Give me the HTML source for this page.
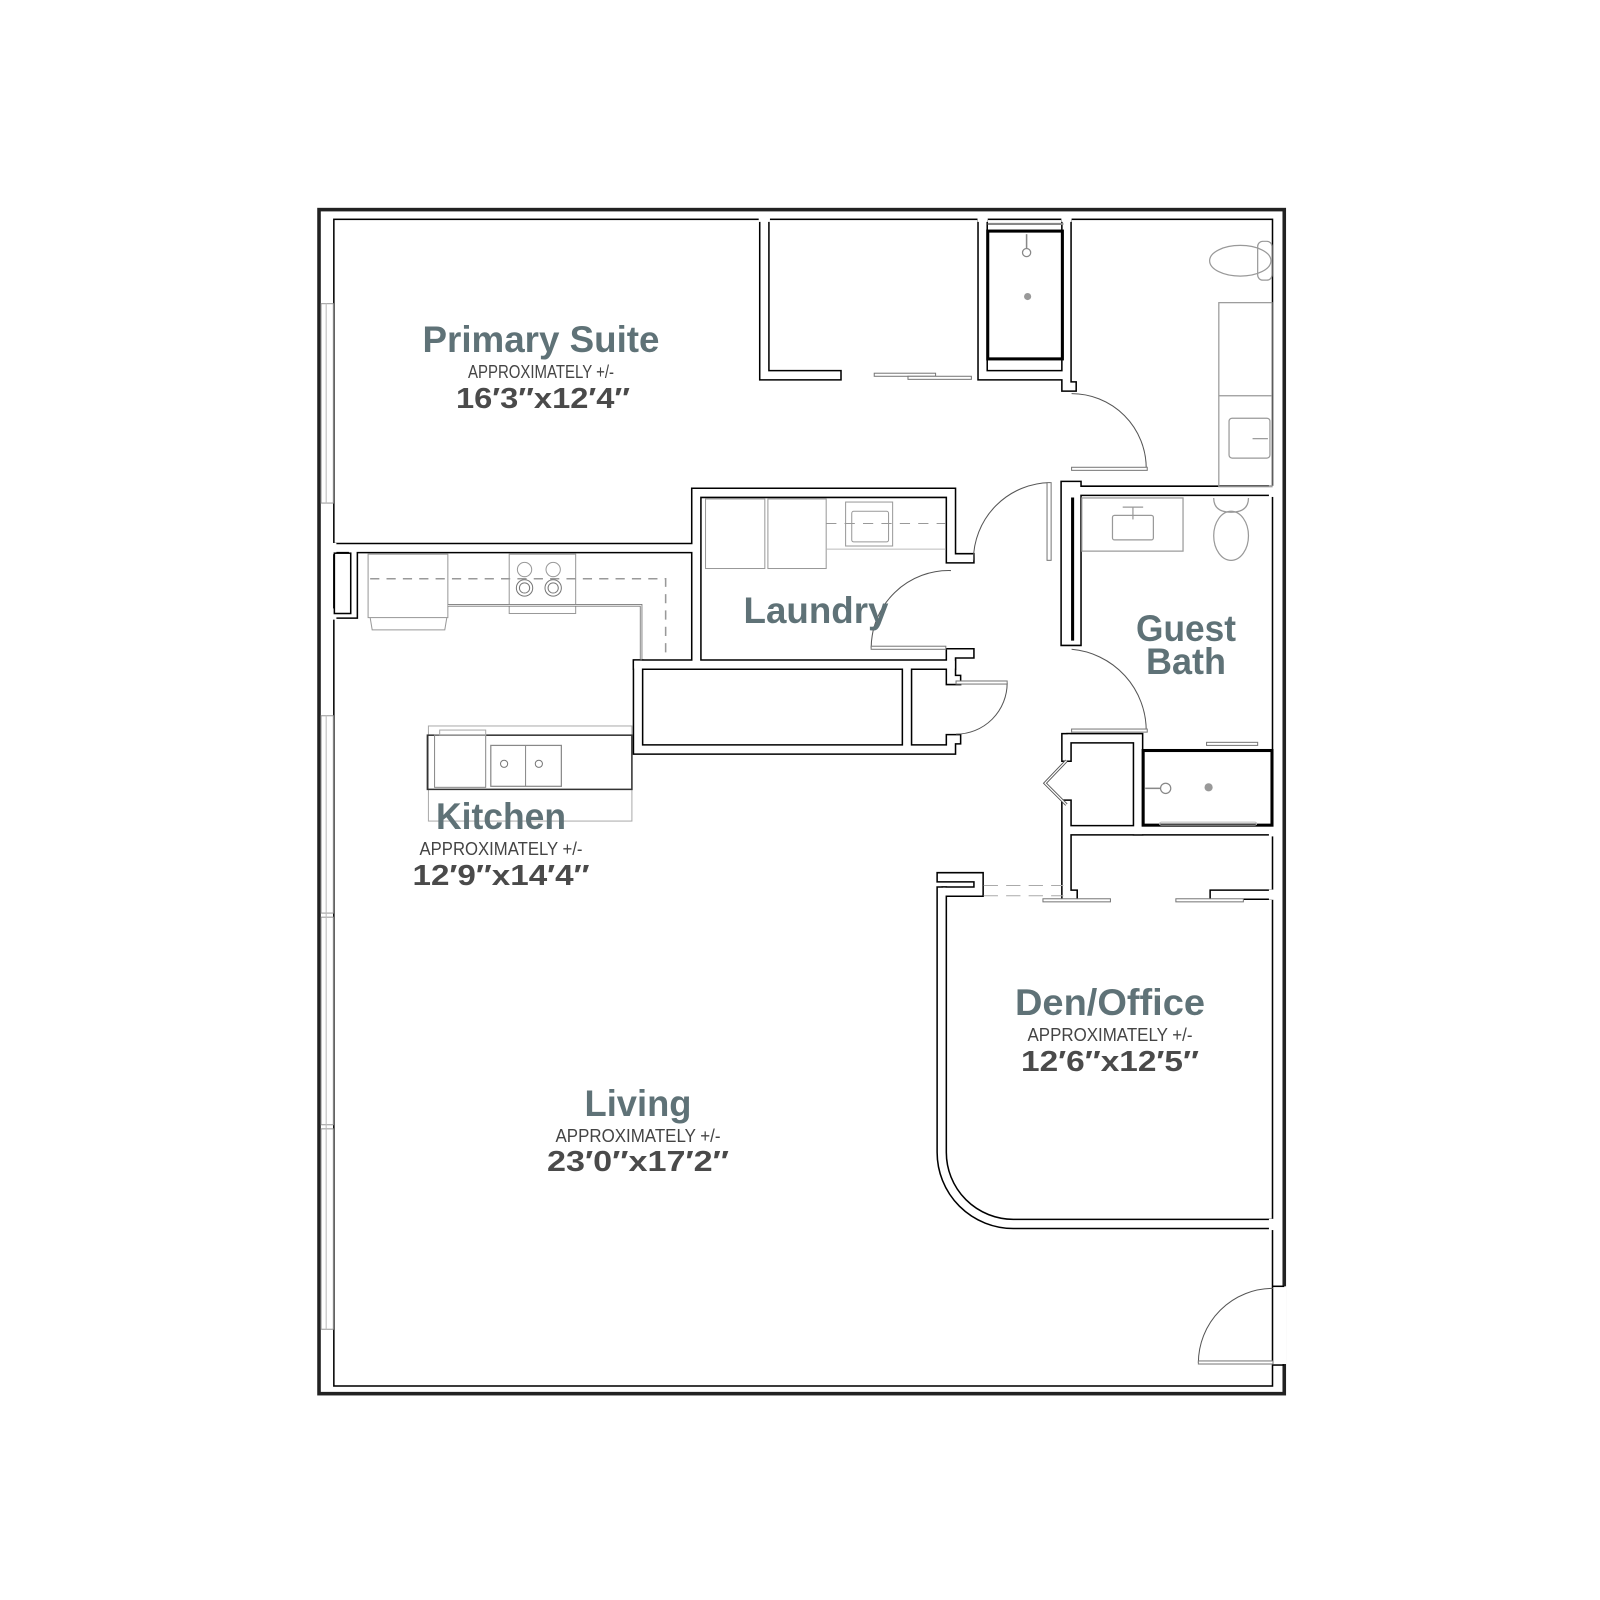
<!DOCTYPE html>
<html><head><meta charset="utf-8"><style>
html,body{margin:0;padding:0;background:#fff;}
svg{display:block;}
.t{font-family:"Liberation Sans",sans-serif;font-weight:bold;fill:#5f7277;text-anchor:middle;}
.a{font-family:"Liberation Sans",sans-serif;fill:#444;text-anchor:middle;}
.d{font-family:"Liberation Sans",sans-serif;font-weight:bold;fill:#4a4a4a;text-anchor:middle;}
</style></head><body>
<svg width="1600" height="1600" viewBox="0 0 1600 1600" xmlns="http://www.w3.org/2000/svg">
<rect width="1600" height="1600" fill="#fff"/>
<g transform="scale(1.0225)">
<rect x="312" y="205" width="944" height="1158" fill="none" stroke="#222" stroke-width="3.5"/>
<rect x="326.5" y="214.5" width="918" height="1141" fill="none" stroke="#000" stroke-width="1.5"/>
<g fill="#fff" stroke="#999" stroke-width="1">
<rect x="314" y="297" width="12" height="195"/>
<rect x="314" y="700" width="12" height="193"/>
<rect x="314" y="897" width="12" height="203"/>
<rect x="314" y="1104" width="12" height="196"/>
</g>
<g stroke="#bbb" stroke-width="1"><line x1="319" y1="297" x2="319" y2="492"/><line x1="319" y1="700" x2="319" y2="1300"/></g>
<rect x="1246" y="1258" width="12" height="76" fill="#fff"/>
<line x1="1245" y1="1258" x2="1256" y2="1258" stroke="#000" stroke-width="1.5"/>
<line x1="1245" y1="1335" x2="1256" y2="1335" stroke="#000" stroke-width="1.5"/>

<g fill="none" stroke-linejoin="miter" stroke-linecap="square">
<g stroke="#000" stroke-width="10.5">
<path d="M747.5,220 V367 H818"/>
<path d="M961,220 V367 H1041"/>
<path d="M1043,220 V378 H1048"/>
<path d="M1048,480 H1240"/>
<path d="M331,536 H676"/>
<path d="M681,650 V482 H930 V546 H948"/>
<path d="M948,639 H930 V650"/>
<path d="M624,650 H930 V665 H935"/>
<path d="M935,723 H930 V733 H624 V650"/>
<path d="M887,656 V728"/>
<path d="M345,541 V600 H331"/>
<path d="M1048,722 H1113 V812"/>
<path d="M1043,722 V740"/>
<path d="M1043,787 V875 H1049"/>
<path d="M1048,812 H1240"/>
<path d="M1188,875 H1240"/>
<path d="M921,872 V1127 A70,70 0 0 0 991,1197 H1240"/>
<path d="M921,858 H957 V872 H926"/>
</g>
<g stroke="#000" stroke-width="21" stroke-linecap="butt"><path d="M1047.5,470 V632"/></g>
<g stroke="#fff" stroke-width="7.5">
<path d="M747.5,220 V367 H818"/>
<path d="M961,220 V367 H1041"/>
<path d="M1043,220 V378 H1048"/>
<path d="M1048,480 H1240"/>
<path d="M331,536 H676"/>
<path d="M681,650 V482 H930 V546 H948"/>
<path d="M948,639 H930 V650"/>
<path d="M624,650 H930 V665 H935"/>
<path d="M935,723 H930 V733 H624 V650"/>
<path d="M887,656 V728"/>
<path d="M345,541 V600 H331"/>
<path d="M1048,722 H1113 V812"/>
<path d="M1043,722 V740"/>
<path d="M1043,787 V875 H1049"/>
<path d="M1048,812 H1240"/>
<path d="M1188,875 H1240"/>
<path d="M921,872 V1127 A70,70 0 0 0 991,1197 H1240"/>
<path d="M921,858 H957 V872 H926"/>
</g>
<g stroke="#fff" stroke-width="18" stroke-linecap="butt"><path d="M1047.5,471.5 V630.5"/></g>
<line x1="1049" y1="488" x2="1049" y2="625" stroke="#000" stroke-width="3"/>
</g>
<g fill="#fff">
<rect x="742" y="213" width="11" height="4"/><rect x="956" y="213" width="10" height="4"/><rect x="1038" y="213" width="10" height="4"/>
<rect x="1241" y="475" width="5" height="11"/><rect x="1241" y="807" width="5" height="11"/><rect x="1241" y="870" width="5" height="10"/><rect x="1241" y="1192" width="5" height="11"/>
<rect x="325" y="531" width="4" height="11"/><rect x="325" y="595" width="4" height="11"/>
</g>
<rect x="327" y="541" width="16" height="59" fill="#fff" stroke="#000" stroke-width="1.5"/>
<rect x="966" y="226" width="73" height="125" fill="#fff" stroke="#000" stroke-width="3"/>
<line x1="966" y1="219" x2="1040" y2="219" stroke="#888" stroke-width="2"/>
<circle cx="1005" cy="290" r="3.5" fill="#999"/>
<circle cx="1004" cy="247" r="4" fill="none" stroke="#888" stroke-width="1.2"/><line x1="1004" y1="229" x2="1004" y2="243" stroke="#888" stroke-width="1.5"/>
<g fill="none" stroke="#555" stroke-width="1">
<path d="M1048,385 A73,73 0 0 1 1121,458"/>
<path d="M1048,635 A80,80 0 0 1 1121,715"/>
<path d="M952,548 A76,76 0 0 1 1027,472"/>
<path d="M852,634 A76,76 0 0 1 930,558"/>
<path d="M985,668 A50,50 0 0 1 935,718"/>
<path d="M1172,1333 A73,73 0 0 1 1245,1260"/>
</g>
<g fill="#fff" stroke="#777" stroke-width="1">
<rect x="1048" y="457" width="74" height="3"/>
<rect x="1048" y="713" width="74" height="3"/>
<rect x="1024" y="472" width="4" height="76"/>
<rect x="852" y="632" width="73" height="3"/>
<rect x="935" y="666" width="50" height="3"/>
<rect x="1172" y="1331" width="73" height="3"/>
<rect x="855" y="365" width="60" height="3"/><rect x="888" y="368" width="62" height="3"/>
<rect x="1020" y="879" width="66" height="3"/><rect x="1150" y="879" width="66" height="3"/>
<rect x="1180" y="726" width="50" height="3"/>
</g>
<g stroke="#555" stroke-width="3" fill="none"><path d="M1043,744 L1022,766 L1043,787"/></g>
<g stroke="#fff" stroke-width="1.2" fill="none"><path d="M1043,744 L1022,766 L1043,787"/></g>
<g stroke="#aaa" stroke-width="1" stroke-dasharray="14,8"><line x1="962" y1="866" x2="1040" y2="866"/><line x1="962" y1="876" x2="1040" y2="876"/></g>
<rect x="1118" y="734" width="126" height="73" fill="#fff" stroke="#000" stroke-width="3"/>
<circle cx="1182" cy="770" r="4" fill="#999"/>
<circle cx="1140" cy="771" r="5" fill="none" stroke="#888" stroke-width="1.2"/><line x1="1120" y1="771" x2="1135" y2="771" stroke="#888" stroke-width="1.5"/>
<rect x="1134" y="804" width="95" height="3" rx="2" fill="none" stroke="#bbb"/>
<g fill="none" stroke="#999" stroke-width="1.2">
<ellipse cx="1213" cy="255" rx="30" ry="15"/>
<rect x="1230" y="236" width="14" height="38" rx="5"/>
<rect x="1192" y="296" width="52" height="180"/><line x1="1192" y1="387" x2="1244" y2="387"/>
<rect x="1202" y="409" width="40" height="39" rx="3"/><line x1="1225" y1="429" x2="1240" y2="429"/>
<rect x="1058" y="487" width="99" height="52"/>
<rect x="1088" y="504" width="40" height="24" rx="2"/><line x1="1098" y1="496" x2="1118" y2="496"/><line x1="1108" y1="496" x2="1108" y2="508"/>
<ellipse cx="1204" cy="524" rx="17" ry="24"/><path d="M1187,487 q0,14 17,14 q17,0 17,-14"/>
</g>
<g fill="none" stroke="#999" stroke-width="1">
<rect x="360" y="542" width="78" height="62"/>
<path d="M362,604 L364,616 L435,616 L437,604"/>
<rect x="498" y="542" width="65" height="58"/>
<circle cx="513" cy="575" r="8" stroke="#777"/><circle cx="541" cy="575" r="8" stroke="#777"/>
<circle cx="513" cy="575" r="5" stroke="#777"/><circle cx="541" cy="575" r="5" stroke="#777"/>
<circle cx="513" cy="557" r="7"/><circle cx="541" cy="557" r="7"/>
</g>
<path d="M362,566 H651 V645" fill="none" stroke="#999" stroke-width="1.5" stroke-dasharray="9,7"/>
<path d="M438,592 H627 V645" fill="none" stroke="#777" stroke-width="2.5"/>
<path d="M438,592 H627 V645" fill="none" stroke="#fff" stroke-width="0.8"/>
<rect x="419" y="710" width="199" height="93" fill="none" stroke="#aaa" stroke-width="1"/>
<rect x="418" y="719" width="200" height="53" fill="none" stroke="#333" stroke-width="1.5"/>
<rect x="425" y="719" width="50" height="51" fill="none" stroke="#888" stroke-width="1"/>
<rect x="480" y="729" width="69" height="40" fill="none" stroke="#888" stroke-width="1.2"/>
<line x1="514" y1="729" x2="514" y2="769" stroke="#888"/>
<circle cx="493" cy="747" r="3.5" fill="none" stroke="#777"/><circle cx="527" cy="747" r="3.5" fill="none" stroke="#777"/>
<rect x="430" y="714" width="45" height="5" fill="none" stroke="#aaa"/>
<g fill="none" stroke="#999" stroke-width="1">
<rect x="690" y="488" width="58" height="68"/><rect x="751" y="488" width="57" height="68"/>
<rect x="827" y="491" width="46" height="43"/><rect x="833" y="500" width="36" height="30" rx="2"/>
</g>
<line x1="808" y1="512" x2="925" y2="512" stroke="#999" stroke-dasharray="10,8"/>
<line x1="808" y1="537" x2="925" y2="537" stroke="#bbb"/>
</g>

<text class="t" x="541" y="352" font-size="37" textLength="237" lengthAdjust="spacingAndGlyphs">Primary Suite</text>
<text class="a" x="541" y="378" font-size="18" textLength="146" lengthAdjust="spacingAndGlyphs">APPROXIMATELY +/-</text>
<text class="d" x="543" y="408" font-size="29" textLength="174" lengthAdjust="spacingAndGlyphs">16′3″x12′4″</text>

<text class="t" x="816" y="623" font-size="37" textLength="145" lengthAdjust="spacingAndGlyphs">Laundry</text>
<text class="t" x="1186" y="641" font-size="37" textLength="100" lengthAdjust="spacingAndGlyphs">Guest</text>
<text class="t" x="1186" y="674" font-size="37" textLength="80" lengthAdjust="spacingAndGlyphs">Bath</text>

<text class="t" x="501" y="829" font-size="37" textLength="130" lengthAdjust="spacingAndGlyphs">Kitchen</text>
<text class="a" x="501" y="855" font-size="18" textLength="163" lengthAdjust="spacingAndGlyphs">APPROXIMATELY +/-</text>
<text class="d" x="501" y="885" font-size="29" textLength="177" lengthAdjust="spacingAndGlyphs">12′9″x14′4″</text>

<text class="t" x="1110" y="1015" font-size="37" textLength="190" lengthAdjust="spacingAndGlyphs">Den/Office</text>
<text class="a" x="1110" y="1041" font-size="18" textLength="165" lengthAdjust="spacingAndGlyphs">APPROXIMATELY +/-</text>
<text class="d" x="1110" y="1071" font-size="29" textLength="178" lengthAdjust="spacingAndGlyphs">12′6″x12′5″</text>

<text class="t" x="638" y="1116" font-size="37" textLength="107" lengthAdjust="spacingAndGlyphs">Living</text>
<text class="a" x="638" y="1142" font-size="18" textLength="165" lengthAdjust="spacingAndGlyphs">APPROXIMATELY +/-</text>
<text class="d" x="638" y="1171" font-size="29" textLength="182" lengthAdjust="spacingAndGlyphs">23′0″x17′2″</text>
</svg>
</body></html>
